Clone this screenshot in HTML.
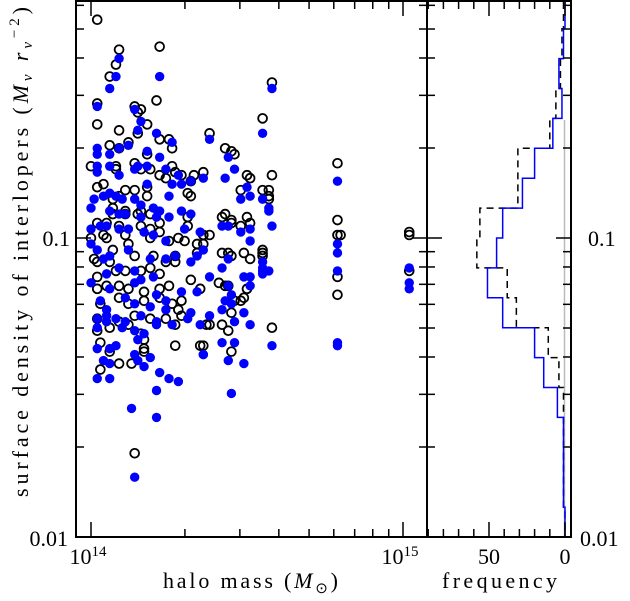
<!DOCTYPE html>
<html><head><meta charset="utf-8"><style>
html,body{margin:0;padding:0;background:#fff;}
svg{display:block;font-family:"Liberation Serif",serif;}
</style></head><body>
<svg id="chart" width="630" height="601" viewBox="0 0 630 601" xmlns="http://www.w3.org/2000/svg">
<g id="scatter"></g>
<g id="hist"></g>
<g id="axes"></g>
<text transform="translate(28,252) rotate(-90)" text-anchor="middle" font-size="22" textLength="490" lengthAdjust="spacing">surface density of interlopers (<tspan font-style="italic">M</tspan><tspan font-size="15" dy="4" font-style="italic">v</tspan><tspan dy="-4"> </tspan><tspan font-style="italic">r</tspan><tspan font-size="15" dy="4" font-style="italic">v</tspan><tspan font-size="15" dy="-13">−2</tspan><tspan dy="9">)</tspan></text>
<text x="163" y="588" font-size="22" textLength="175" lengthAdjust="spacing">halo mass (<tspan font-style="italic">M</tspan><tspan font-size="15" dy="5">⊙</tspan><tspan dy="-5">)</tspan></text>
<text x="442" y="588" font-size="22" textLength="115" lengthAdjust="spacing">frequency</text>
</svg>
<script>
// data: [log10 halo mass (Msun), log10 surface density]
const openPoints=[[14.58,-0.48],[14.55,-0.60],[14.38,-0.65],[14.43,-0.70],[14.45,-0.71],[14.46,-0.72],[14.36,-0.78],[14.50,-0.79],[14.51,-0.80],[14.58,-0.79],[14.55,-0.84],[14.57,-0.84],[14.48,-0.84],[14.57,-0.86],[14.57,-0.87],[14.42,-0.93],[14.43,-0.92],[14.45,-0.94],[14.50,-0.93],[14.45,-0.95],[14.51,-0.95],[14.48,-0.96],[14.36,-0.99],[14.38,-0.99],[14.36,-1.02],[14.42,-1.05],[14.44,-1.05],[14.45,-1.06],[14.49,-1.05],[14.51,-1.07],[14.55,-1.04],[14.55,-1.05],[14.55,-1.06],[14.41,-1.15],[14.44,-1.16],[14.43,-1.16],[14.50,-1.17],[14.49,-1.20],[14.48,-1.21],[14.46,-1.21],[14.45,-1.25],[14.42,-1.29],[14.44,-1.31],[14.58,-1.30],[14.36,-1.36],[14.45,-1.38],[14.79,-0.75],[14.79,-0.94],[14.79,-0.99],[14.80,-0.99],[14.79,-1.13],[14.79,-1.19],[15.02,-0.98],[15.02,-0.99],[15.02,-1.11],
[14.02,-0.27],[14.09,-0.37],[14.22,-0.36],[14.08,-0.42],[14.06,-0.46],[14.02,-0.55],[14.21,-0.54],[14.14,-0.56],[14.16,-0.57],[14.15,-0.58],[14.02,-0.62],[14.09,-0.64],[14.18,-0.62],[14.15,-0.65],[14.22,-0.67],[14.06,-0.69],[14.09,-0.70],[14.12,-0.68],[14.25,-0.67],[14.26,-0.70],[14.18,-0.72],
[14.00,-0.76],[14.08,-0.76],[14.08,-0.77],[14.14,-0.75],[14.16,-0.77],[14.19,-0.77],[14.26,-0.76],[14.27,-0.78],[14.29,-0.79],[14.22,-0.79],[14.24,-0.80],[14.32,-0.81],[14.33,-0.79],[14.04,-0.82],[14.02,-0.83],[14.11,-0.84],[14.14,-0.84],[14.18,-0.83],[14.31,-0.85],[14.09,-0.86],[14.07,-0.87],[14.18,-0.86],[14.32,-0.86],[14.07,-0.90],[14.11,-0.91],[14.16,-0.91],[14.19,-0.92],[14.15,-0.92],[14.07,-0.92],[14.22,-0.95],[14.11,-0.92],[14.31,-0.93],[14.05,-0.95],[14.02,-0.95],[14.09,-0.96],[14.16,-0.96],[14.31,-0.96],[14.36,-0.99],[14.19,-0.97],[14.22,-0.98],[14.04,-0.99],[14.05,-1.00],[14.11,-0.99],[14.19,-1.00],[14.00,-1.00],[14.28,-1.00],[14.30,-1.01],[14.34,-1.02],[14.12,-1.02],[14.25,-1.01],[14.07,-1.04],[14.01,-1.07],[14.14,-1.06],[14.20,-1.06],[14.06,-1.08],[14.19,-1.10],[14.27,-1.08],[14.27,-1.06],[14.34,-1.05],[14.02,-1.08],[14.08,-1.11],[14.11,-1.11],[14.16,-1.11],[14.22,-1.12],[14.24,-1.08],[14.02,-1.13],[14.05,-1.16],[14.09,-1.16],[14.12,-1.17],[14.17,-1.18],[14.22,-1.17],[14.25,-1.16],[14.32,-1.14],[14.35,-1.17],[14.02,-1.17],[14.09,-1.20],[14.17,-1.21],[14.26,-1.22],[14.29,-1.21],[14.03,-1.22],[14.22,-1.20],[14.12,-1.22],[14.28,-1.24],[14.14,-1.26],[14.29,-1.26],[14.02,-1.27],[14.19,-1.27],[14.09,-1.28],[14.24,-1.27],[14.27,-1.29],
[14.02,-1.31],[14.06,-1.30],[14.12,-1.29],[14.16,-1.32],[14.03,-1.35],[14.06,-1.38],[14.17,-1.38],[14.09,-1.42],[14.13,-1.42],[14.03,-1.44],[14.17,-1.34],[14.17,-1.37],[14.27,-1.36],[14.37,-1.29],[14.38,-1.29],[14.14,-1.72],[14.35,-1.36]];
const filledPoints=[[14.58,-0.50],[14.55,-0.65],[14.38,-0.67],[14.44,-0.73],[14.46,-0.77],[14.43,-0.80],[14.36,-0.80],[14.50,-0.83],[14.48,-0.87],[14.51,-0.86],[14.55,-0.87],[14.57,-0.90],[14.57,-0.91],[14.58,-0.96],[14.42,-0.96],[14.44,-0.96],[14.48,-0.98],[14.51,-0.97],[14.51,-1.01],[14.36,-1.04],[14.44,-1.07],[14.42,-1.10],[14.38,-1.13],[14.55,-1.08],[14.55,-1.10],[14.55,-1.11],[14.55,-1.12],[14.57,-1.11],[14.49,-1.13],[14.51,-1.13],[14.51,-1.16],[14.44,-1.16],[14.45,-1.19],[14.43,-1.21],[14.42,-1.24],[14.45,-1.22],[14.49,-1.25],[14.38,-1.26],[14.46,-1.28],[14.51,-1.29],[14.42,-1.35],[14.46,-1.35],[14.58,-1.36],[14.36,-1.39],[14.44,-1.41],[14.49,-1.42],[14.45,-1.52],[14.79,-0.81],[14.79,-1.02],[14.79,-1.05],[14.79,-1.11],[14.79,-1.36],[14.79,-1.35],[15.02,-1.10],[15.02,-1.15],[15.02,-1.17],
[14.09,-0.40],[14.08,-0.46],[14.06,-0.50],[14.22,-0.46],[14.02,-0.56],[14.14,-0.57],[14.16,-0.61],[14.15,-0.64],[14.21,-0.65],[14.26,-0.68],[14.02,-0.70],[14.02,-0.72],[14.06,-0.72],[14.09,-0.70],[14.12,-0.69],[14.18,-0.71],[14.22,-0.73],[14.02,-0.76],[14.15,-0.76],[14.18,-0.76],
[14.02,-0.78],[14.06,-0.76],[14.14,-0.77],[14.09,-0.79],[14.18,-0.82],[14.24,-0.77],[14.28,-0.79],[14.26,-0.82],[14.29,-0.82],[14.32,-0.81],[14.25,-0.86],[14.04,-0.86],[14.01,-0.87],[14.06,-0.85],[14.08,-0.86],[14.14,-0.87],[14.16,-0.89],[14.10,-0.87],[14.20,-0.90],[14.00,-0.90],[14.06,-0.91],[14.09,-0.92],[14.11,-0.92],[14.16,-0.93],[14.21,-0.93],[14.25,-0.93],[14.29,-0.91],[14.22,-0.91],[14.32,-0.92],[14.03,-0.96],[14.00,-0.97],[14.05,-0.96],[14.09,-0.97],[14.12,-0.97],[14.17,-0.98],[14.20,-0.99],[14.24,-1.01],[14.30,-0.97],[14.35,-0.98],[14.00,-1.02],[14.02,-1.04],[14.12,-1.04],[14.06,-1.06],[14.04,-1.07],[14.19,-1.07],[14.24,-1.07],[14.27,-1.06],[14.32,-1.08],[14.34,-1.06],[14.05,-1.12],[14.09,-1.10],[14.14,-1.11],[14.16,-1.14],[14.20,-1.13],[14.06,-1.17],[14.11,-1.20],[14.14,-1.15],[14.21,-1.19],[14.24,-1.21],[14.29,-1.18],[14.34,-1.18],[14.00,-1.15],[14.03,-1.21],[14.05,-1.24],[14.14,-1.22],[14.19,-1.23],[14.24,-1.24],[14.02,-1.27],[14.05,-1.26],[14.08,-1.27],[14.11,-1.28],[14.16,-1.26],[14.21,-1.28],[14.32,-1.25],[14.31,-1.27],[14.26,-1.29],[14.35,-1.29],
[14.02,-1.30],[14.05,-1.28],[14.10,-1.30],[14.14,-1.31],[14.17,-1.32],[14.21,-1.29],[14.02,-1.37],[14.06,-1.37],[14.08,-1.36],[14.15,-1.34],[14.14,-1.39],[14.15,-1.41],[14.04,-1.41],[14.06,-1.42],[14.19,-1.40],[14.17,-1.43],[14.22,-1.45],[14.25,-1.47],[14.02,-1.47],[14.06,-1.47],[14.28,-1.48],[14.21,-1.51],[14.13,-1.57],[14.21,-1.60],[14.14,-1.80],[14.36,-1.39]];
// histogram bins: upper edge of log density, top to bottom
const binTopEdges=[-0.2,-0.3,-0.4,-0.5,-0.6,-0.7,-0.8,-0.9,-1.0,-1.1,-1.2,-1.3,-1.4,-1.5,-1.6,-1.7,-1.8,-1.9];
const countsFilled=[0,1,4,2,8,20,28,41,45,51,41,20,14,5,1,1,1,0];
const countsOpen=[1,2,3,6,10,31,31,56,58,38,32,11,4,1,1,1,1,0];
const yTickLabels=["0.01","0.1"];
const xTickLabels=["10","10"];
const freqTickLabels=["50","0"];

const NS="http://www.w3.org/2000/svg";
const L=76,R=427,T=0,B=537,HR=571;
const xs=lm=>91+312*(lm-14);
const ys=ls=>238-299*(ls+1);
const fx=c=>565-1.52*c;
function mk(tag,attrs,parent){const e=document.createElementNS(NS,tag);for(const k in attrs)e.setAttribute(k,attrs[k]);parent.appendChild(e);return e;}
const sc=document.getElementById('scatter'),hg=document.getElementById('hist'),ax=document.getElementById('axes');
openPoints.forEach(p=>{
  const c=mk('circle',{cx:xs(p[0]),cy:ys(p[1]),r:4.4,fill:'none',stroke:'#000','stroke-width':1.8},sc);
  
  
});
filledPoints.forEach(p=>{
  const c=mk('circle',{cx:xs(p[0]),cy:ys(p[1]),r:4.7,fill:'#0000ff'},sc);
  
  
});
const g=mk('line',{x1:564.5,y1:120,x2:564.5,y2:B,stroke:'#bbb','stroke-width':1.5},hg);


function stepPath(counts){
  let d='';
  counts.forEach((c,i)=>{
    const y0=i===0?-10:ys(binTopEdges[i]);const y1=ys(binTopEdges[i]-0.1);
    const x=fx(c);
    d+=(i===0?'M':'L')+x+' '+y0+' L'+x+' '+y1+' ';
  });
  return d;
}
const ho=mk('path',{d:stepPath(countsOpen),fill:'none',stroke:'#000','stroke-width':1.5,'stroke-dasharray':'7,5'},hg);


const hf=mk('path',{d:stepPath(countsFilled),fill:'none',stroke:'#0000ff','stroke-width':1.5},hg);


const f1=mk('rect',{x:L,y:T+1,width:R-L,height:B-T-1,fill:'none',stroke:'#000','stroke-width':2},ax);


const f2=mk('rect',{x:R,y:T+1,width:HR-R,height:B-T-1,fill:'none',stroke:'#000','stroke-width':2},ax);


function tick(x1,y1,x2,y2){const t=mk('line',{x1,y1,x2,y2,stroke:'#000','stroke-width':1.5},ax);}
for(let dec=-2;dec<=-1;dec++){for(let k=1;k<=9;k++){const v=Math.log10(k)+dec;const y=ys(v);if(y<T||y>B)continue;const len=k===1?15:8;
  tick(L,y,L+len,y);tick(R,y,R-len,y);tick(R,y,R+len,y);tick(HR,y,HR-len,y);}}
for(let dec=14;dec<=15;dec++){for(let k=1;k<=9;k++){const v=Math.log10(k)+dec;const x=xs(v);if(x<L||x>R)continue;const len=k===1?15:8;
  tick(x,B,x,B-len);tick(x,T+1,x,T+1+len);}}
for(let c=0;c<=90;c+=10){const x=fx(c);const len=c%50===0?15:8;tick(x,B,x,B-len);tick(x,T+1,x,T+1+len);}
function label(txt,x,y,anchor,name){const t=mk('text',{x,y,'text-anchor':anchor,'font-size':22},ax);t.textContent=txt;return t;}
label(yTickLabels[0],68,546,'end','y-tick-label');
label(yTickLabels[1],70,246,'end','y-tick-label');
label(yTickLabels[0],580,546,'start','y-tick-label-right');
label(yTickLabels[1],588,246,'start','y-tick-label-right');
[[14,'14'],[15,'15']].forEach((e,i)=>{const t=label(xTickLabels[i],xs(e[0])-3,564,'middle','x-tick-label');const s=document.createElementNS(NS,'tspan');s.setAttribute('font-size','15');s.setAttribute('dy','-8');s.textContent=e[1];t.appendChild(s);});
label(freqTickLabels[0],fx(50),564,'middle','freq-tick-label');
label(freqTickLabels[1],fx(0),564,'middle','freq-tick-label');
</script>
</body></html>
